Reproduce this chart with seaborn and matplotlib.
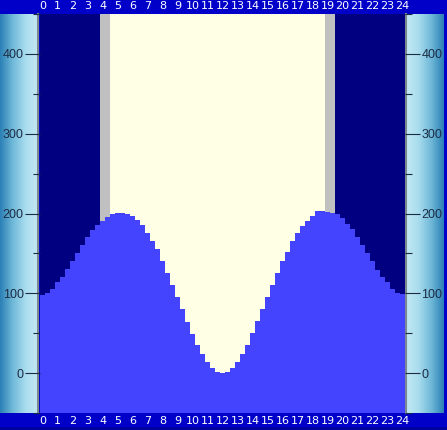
import numpy as np
import pandas as pd
import matplotlib
matplotlib.use("Agg")
import matplotlib.pyplot as plt
from matplotlib.colors import LinearSegmentedColormap
from matplotlib.patches import Rectangle
import seaborn as sns

# ---- data (20-minute steps, 0:00 .. 24:00) ----
heights = [98, 100, 106, 114, 121, 131, 141, 151, 161, 170, 179, 185, 191, 196, 200, 201, 201, 200, 197,
           192, 185, 176, 166, 155, 140, 126, 110, 95, 80, 64, 49, 35, 24, 14, 6, 1.5, 0,
           1.5, 6, 14, 24, 35, 50, 65, 80, 95, 110, 125, 140, 152, 165, 175, 184, 191, 197,
           203, 203, 202, 201, 199, 194, 187, 180, 171, 160, 150, 140, 129, 121, 114, 106, 101, 99]
steps_per_hour = 3
hour_labels = [str(h) for h in range(25)]
y_major = [0, 100, 200, 300, 400]
y_minor = [-50, 50, 150, 250, 350, 450]
dawn, sunrise, sunset, dusk = 3 + 50 / 60, 4.5, 18 + 50 / 60, 19.5

# ---- colours ----
band = "#0000c8"
night = "#000080"
day = "#ffffe6"
twilight = "#c0c0c0"
water = "#4444ff"
tick_col = "#1c2c44"

W, H = 447, 430
fig = plt.figure(figsize=(W / 100, H / 100), dpi=100)
fig.patch.set_facecolor(band)
fig.patches.append(Rectangle((0, 0), 1, 3 / H, transform=fig.transFigure,
                             facecolor="#0000a0", edgecolor="none", zorder=0))

bot, top = 17, 416
hgt = (top - bot) / H

# side panels with gradient
cmap = LinearSegmentedColormap.from_list("cyl", ["#2a7fb5", "#6fb8d8", "#a8dcee", "#c4e9f4"])
grad = np.linspace(0, 1, 256).reshape(1, -1)
for (x0, x1, flip, side) in [(0, 38, False, "right"), (406, 444, True, "left")]:
    pax = fig.add_axes([x0 / W, bot / H, (x1 - x0) / W, hgt])
    pax.imshow(grad[:, ::-1] if flip else grad, aspect="auto", cmap=cmap,
               extent=[0, 1, 0, 1], interpolation="bilinear")
    pax.set_xticks([])
    pax.set_yticks([])
    for s in pax.spines.values():
        s.set_visible(False)
    pax.spines[side].set_visible(True)
    pax.spines[side].set_color("#7a8a90")
    pax.spines[side].set_linewidth(1.5)

# main plot
ax = fig.add_axes([40 / W, bot / H, 365 / W, hgt])
ax.set_facecolor(night)
n = len(heights)
df = pd.DataFrame({"step": list(range(n)), "height": heights})

ax.axvspan(dawn * steps_per_hour, sunrise * steps_per_hour, color=twilight, lw=0, zorder=0)
ax.axvspan(sunrise * steps_per_hour, sunset * steps_per_hour, color=day, lw=0, zorder=0)
ax.axvspan(sunset * steps_per_hour, dusk * steps_per_hour, color=twilight, lw=0, zorder=0)
ax.axhspan(-50, 0, color=water, lw=0, zorder=1)

sns.barplot(data=df, x="step", y="height", ax=ax, color=water, saturation=1,
            width=1.0, errorbar=None, linewidth=0, edgecolor="none", zorder=2,
            antialiased=False)

ax.set_xlim(-0.5, n - 0.5)
ax.set_ylim(-50, 450)
ax.set_xlabel("")
ax.set_ylabel("")

ax.set_xticks(list(range(0, n, steps_per_hour)))
ax.set_xticklabels(hour_labels)
ax.tick_params(axis="x", which="both", top=True, bottom=True, labeltop=True, labelbottom=True,
               length=0, colors="white", labelsize=8, pad=0.8)
ax.tick_params(axis="x", which="both", bottom=True, pad=2.5)
for lbl in ax.get_xticklabels(which="both"):
    pass

ax.set_yticks(y_major)
ax.set_yticks(y_minor, minor=True)
ax.set_yticklabels([str(v) for v in y_major], family=["Liberation Sans", "DejaVu Sans"])
ax.tick_params(axis="y", which="major", left=True, right=True, labelleft=True, labelright=True,
               direction="out", length=10.8, width=0.8, color=tick_col, labelcolor=tick_col,
               labelsize=9, pad=1)
ax.tick_params(axis="y", which="minor", left=True, right=True, direction="out",
               length=5, width=0.8, color=tick_col)
for s in ax.spines.values():
    s.set_visible(False)
ax.grid(False)

fig.savefig("out.png", dpi=100, facecolor=band)
